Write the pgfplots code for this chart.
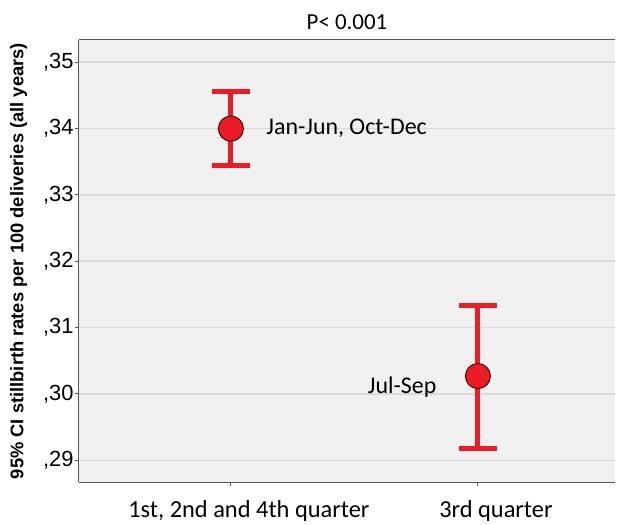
\documentclass[border=0pt]{standalone}
\usepackage{fontspec}
\setmainfont{Carlito}
\newfontfamily\arialfont{Liberation Sans}
\usepackage{pgfplots}
\pgfplotsset{compat=1.18}
\definecolor{bgray}{HTML}{F0F0F0}
\definecolor{gridc}{HTML}{D9D9D9}
\definecolor{spssred}{HTML}{EC1C24}
\definecolor{axisc}{HTML}{555555}
\begin{document}
\begin{tikzpicture}
\begin{axis}[
  name=ax,
  scale only axis,
  width=536bp, height=442bp,
  xmin=-0.615, xmax=1.555,
  ymin=0.28673, ymax=0.35336,
  axis x line*=bottom,
  axis y line*=left,
  axis line style={axisc, line width=1bp},
  axis background/.style={fill=bgray},
  xtick={0,1},
  xticklabels={{1st, 2nd and 4th quarter}, {3rd quarter}},
  x tick label style={font=\fontsize{24.5}{25}\selectfont, yshift=-11bp, xshift=18bp},
  ytick={0.29,0.30,0.31,0.32,0.33,0.34,0.35},
  yticklabels={{,29},{,30},{,31},{,32},{,33},{,34},{,35}},
  y tick label style={font=\arialfont\fontsize{22}{22}\selectfont, xshift=2bp},
  tick align=outside,
  major tick length=4bp,
  tick style={axisc, line width=1bp},
  ymajorgrids,
  grid style={gridc, line width=1.6bp},
  ylabel={\bfseries 95\% CI stillbirth rates per 100 deliveries (all years)},
  ylabel style={font=\arialfont\fontsize{18.4}{19}\selectfont, yshift=9bp},
  title={P< 0.001},
  title style={font=\fontsize{23}{24}\selectfont, yshift=1bp},
  clip=false,
]
\addplot[
  only marks,
  mark=*,
  mark size=12.5bp,
  mark options={fill=spssred, draw=black!70!red, line width=1bp},
  error bars/.cd,
    y dir=both, y explicit,
    error bar style={spssred, line width=5bp},
    error mark=-,
    error mark options={spssred, line width=5bp, mark size=19bp, rotate=90},
] coordinates {
  (0, 0.3400) += (0, 0.0056) -= (0, 0.0055)
  (1, 0.3027) += (0, 0.0107) -= (0, 0.0109)
};
\node[anchor=west, font=\fontsize{24}{25}\selectfont] at ([xshift=32bp]axis cs:0,0.3400) {Jan-Jun, Oct-Dec};
\node[anchor=east, font=\fontsize{24}{25}\selectfont] at ([xshift=-38bp,yshift=-11bp]axis cs:1,0.3027) {Jul-Sep};
\draw[axisc, line width=1bp] (rel axis cs:0,1) -- (rel axis cs:1,1);
\end{axis}
\pgfresetboundingbox
\path[use as bounding box] ([shift={(-79bp,-43bp)}]ax.south west) rectangle ([shift={(2bp,40bp)}]ax.north east);
\end{tikzpicture}
\end{document}
